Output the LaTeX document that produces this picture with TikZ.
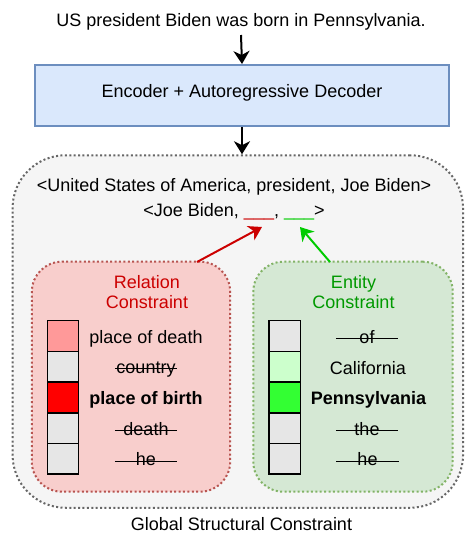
\documentclass[tikz,border=0pt]{standalone}
\usepackage{fontspec}
\setmainfont{Liberation Sans}
\usetikzlibrary{arrows.meta}
\definecolor{encfill}{HTML}{DAE8FC}
\definecolor{encline}{HTML}{6C8EBF}
\definecolor{globfill}{HTML}{F5F5F5}
\definecolor{globline}{HTML}{666666}
\definecolor{relfill}{HTML}{F8CECC}
\definecolor{relline}{HTML}{B85450}
\definecolor{entfill}{HTML}{D5E8D4}
\definecolor{entline}{HTML}{82B366}
\definecolor{reltext}{HTML}{CC0000}
\definecolor{enttext}{HTML}{009900}
\definecolor{entarrow}{HTML}{00CC00}
\definecolor{cellgrey}{HTML}{E6E6E6}
\definecolor{cellpink}{HTML}{FF9999}
\definecolor{cellred}{HTML}{FF0000}
\definecolor{cellpale}{HTML}{CCFFCC}
\definecolor{cellgreen}{HTML}{33FF33}
\begin{document}
\begin{tikzpicture}[x=1pt,y=-1pt,
  font=\fontsize{18}{20}\selectfont,
  arr/.style={line width=2pt,-{Stealth[length=13pt,width=16pt,inset=4pt]}},
  dotbox/.style={line width=2pt,dash pattern=on 2pt off 2.4pt,rounded corners=#1,inner sep=0pt},
  cell/.style={draw=black,line width=1.5pt,minimum width=31.3pt,minimum height=30.7pt,inner sep=0pt},
  lbl/.style={anchor=base,inner sep=0pt},
  strk/.style={anchor=base,inner sep=0pt,minimum width=62pt},
  strkline/.style={line width=1.3pt}]
\useasboundingbox (0,0) rectangle (465,533);

% title and encoder
\node[lbl] (title) at (241,26.7) {US president Biden was born in Pennsylvania.};
\node[draw=encline,fill=encfill,line width=2pt,minimum width=414pt,minimum height=61pt,
      text height=13pt,text depth=9.4pt,inner sep=0pt] (enc) at (242,95.5)
      {Encoder + Autoregressive Decoder};

% global box
\node[dotbox=53pt,draw=globline,fill=globfill,minimum width=450.5pt,minimum height=352.5pt]
      (glob) at (237.8,331.5) {};
\draw[arr] (241,35) -- (enc.north);
\draw[arr] (enc.south) -- (glob.north -| enc.south);

\node[lbl] (trip1) at (234,191.7) {<United States of America, president, Joe Biden>};
\node[lbl] (trip2) at (234,216) {<Joe Biden, \textcolor{reltext}{\_\_\_}, \textcolor{entarrow}{\_\_\_}>};

% relation box
\node[dotbox=30pt,draw=relline,fill=relfill,minimum width=198.3pt,minimum height=230pt]
      (rel) at (131,376.7) {};
\node[lbl,align=center,text=reltext] (relt) at (147,308.3) {Relation\\Constraint};

% entity box
\node[dotbox=30pt,draw=entline,fill=entfill,minimum width=199.4pt,minimum height=230pt]
      (ent) at (353,376.7) {};
\node[lbl,align=center,text=enttext] (entt) at (353.5,308.3) {Entity\\Constraint};

% arrows to blanks
\coordinate (rs) at (197,262);
\coordinate (rt) at (262,227);
\coordinate (gs) at (330,262);
\coordinate (gt) at (300,227);
\draw[arr,reltext] (rs) -- (rt);
\draw[arr,entarrow] (gs) -- (gt);

% relation cells
\node[cell,fill=cellpink] (r1) at (63,336.05) {};
\node[cell,fill=cellgrey] (r2) at (63,366.75) {};
\node[cell,fill=cellred]  (r3) at (63,397.45) {};
\node[cell,fill=cellgrey] (r4) at (63,428.15) {};
\node[cell,fill=cellgrey] (r5) at (63,458.85) {};

\node[lbl]  (rl1) at (146,343) {place of death};
\node[strk] (rl2) at (146,373.7) {country};
\node[lbl,font=\fontsize{18}{20}\selectfont\bfseries] (rl3) at (146,404.4) {place of birth};
\node[strk] (rl4) at (146,435) {death};
\node[strk] (rl5) at (146,465.8) {he};
\draw[strkline] ([yshift=5pt]rl2.base west) -- ([yshift=5pt]rl2.base east);
\draw[strkline] ([yshift=4.5pt]rl4.base west) -- ([yshift=4.5pt]rl4.base east);
\draw[strkline] ([yshift=4.5pt]rl5.base west) -- ([yshift=4.5pt]rl5.base east);

% entity cells
\node[cell,fill=cellgrey]  (g1) at (284.8,336.05) {};
\node[cell,fill=cellpale]  (g2) at (284.8,366.75) {};
\node[cell,fill=cellgreen] (g3) at (284.8,397.45) {};
\node[cell,fill=cellgrey]  (g4) at (284.8,428.15) {};
\node[cell,fill=cellgrey]  (g5) at (284.8,458.85) {};

\node[strk] (gl1) at (367,343) {of};
\node[lbl]  (gl2) at (368,374) {California};
\node[lbl,font=\fontsize{18}{20}\selectfont\bfseries] (gl3) at (368.5,404.4) {Pennsylvania};
\node[strk] (gl4) at (367,435) {the};
\node[strk] (gl5) at (367.5,465.8) {he};
\draw[strkline] ([yshift=4.5pt]gl1.base west) -- ([yshift=4.5pt]gl1.base east);
\draw[strkline] ([yshift=4.5pt]gl4.base west) -- ([yshift=4.5pt]gl4.base east);
\draw[strkline] ([yshift=4.5pt]gl5.base west) -- ([yshift=4.5pt]gl5.base east);

\node[lbl] (globt) at (241.5,530.5) {Global Structural Constraint};
\end{tikzpicture}
\end{document}
